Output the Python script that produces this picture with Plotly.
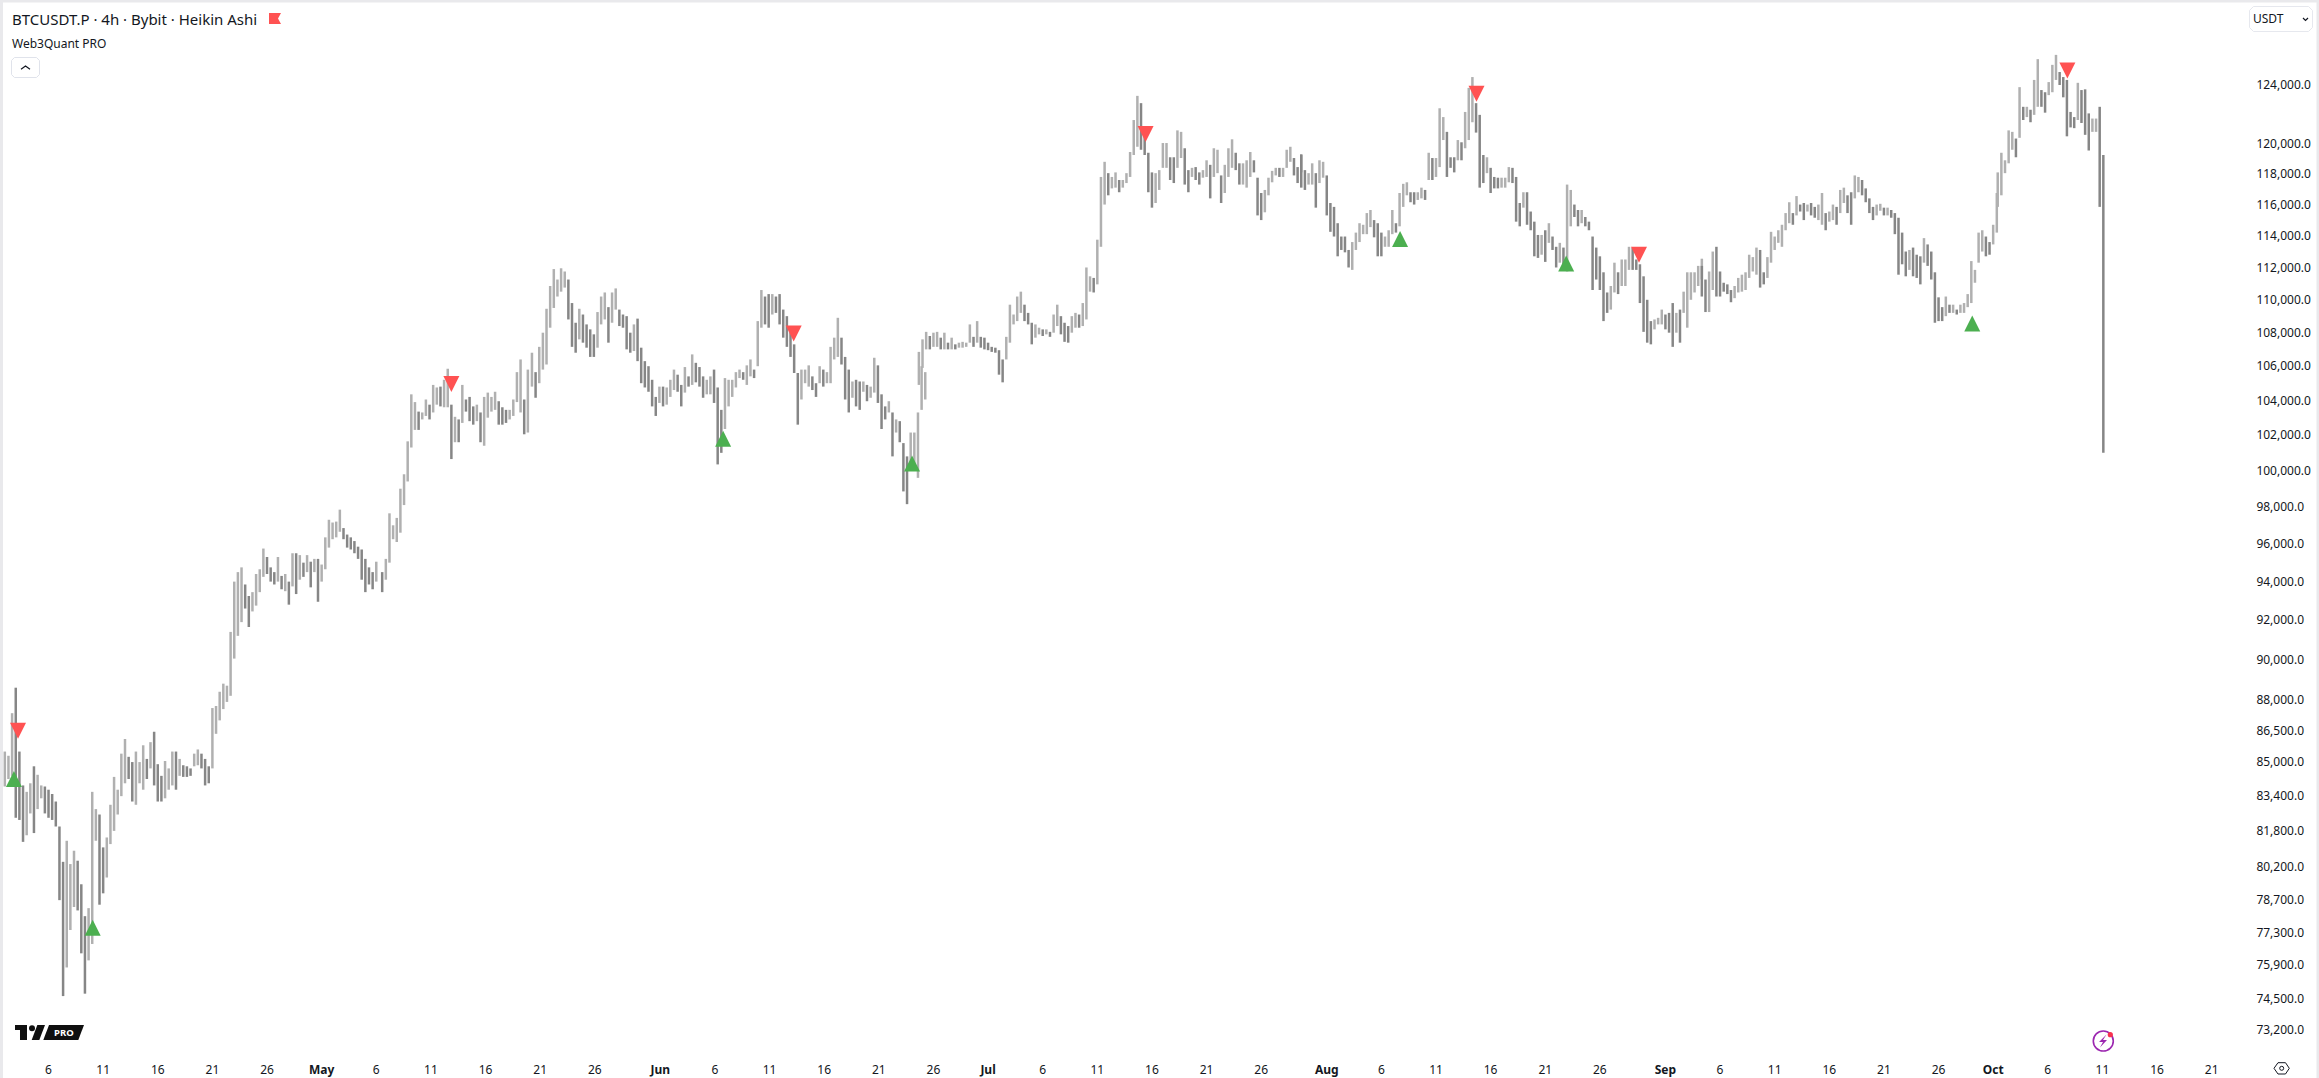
import datetime as dt
import math
import plotly.graph_objects as go

W, H = 2319, 1078
L, R, T, B = 3, 2249, 8, 1050
FONT = "Noto Sans"
INK = "#131722"
UP_COLOR = "#b0b0b0"
DOWN_COLOR = "#868686"
RED = "#ff5252"
GREEN = "#4caf50"

# Heikin Ashi ranges, 8h steps, (high, low) in thousands of USDT
BARS_APR_A = [(85.5,83.85),(85.3,84.2),(87.35,84.35),(88.6,82.4),(85.5,82.3),(83.9,81.3),(83.6,81.6),(84,82.6),(84.8,81.7),(84.4,82.8),(83.9,83.3),(83.85,82.6),(83.7,82.4),(83.5,82.3),(83.15,82),(82,78.7),(80.4,74.6),(81.35,75.8),(80.3,77.4),(80.9,78.4),(80.45,78.25),(79.4,76.4),(78,74.7),(78.35,76.1),(83.6,76.8),(82.8,81.35),(82.55,78.5),(81.05,79),(81.5,79.7),(83,81.2),(84.3,81.8),(83.7,82.55),(85.4,83.4),(86.1,84),(85.25,84.2),(85,83.15),(85.5,83),(85,84),(85.8,83.7),(85.15,84.2),(85.95,84.7),(86.45,83.9),(84.9,83.15),(84.35,83.15),(85.05,83.3),(84.7,83.7),(85.5,83.9),(85.5,83.7),(85.15,84.35),(84.85,84.3),(84.8,84.3),(84.7,84.35),(85.4,84.8),(85.6,84.85),(85.4,84.7),(85.15,83.9),(84.8,84),(87.6,84.7),(87.7,86.35)]
BARS_APR_B = [(88.4,87),(88.8,87.55),(88.7,87.9),(91.4,88.2),(94,90.05),(94.5,91.2),(94.75,91.9),(93.85,92.6),(93.25,91.65),(93.45,92.45),(94.4,92.75),(94.65,93.45),(95.75,94.25),(95.3,94.4),(94.75,94),(94.5,93.85),(95.3,94),(94.3,93.6),(94.4,93.5),(94,92.8),(95.5,93.75),(95.5,93.35),(95.4,94.1),(95,94.25),(95.4,94.5),(95.05,93.7),(95.2,94.5),(95.2,92.95),(94.9,94),(96.35,94.65),(97.3,95.8),(97.15,96.25),(97.2,96.35),(97.85,96.65),(96.85,96.25),(96.5,95.8),(96.35,95.7),(96.15,95.5),(95.85,95.2),(95.7,94.1),(95.2,93.45),(94.75,93.85),(94.5,93.6),(95.05,94)]
BARS_MAY_A = [(94.5,93.45),(95.2,94.1),(97.65,95),(97,96.25),(97.4,96.1),(99,96.6),(99.8,98.1),(101.65,99.4),(104.35,101.3),(103.9,102.3),(103.35,102.3),(103.3,102.9),(104.05,103.1),(103.75,102.9),(104.9,103.3),(104.75,103.75),(104.8,103.65),(105.2,103.6),(105.85,103.6),(103.75,100.65),(103.05,101.6),(102.9,101.6),(104.9,102.7),(104.05,103.35),(104.2,102.8),(103.65,102.6),(103.75,102.8),(103.3,101.6),(104.2,101.4),(104.45,103),(104.2,103.35),(104.5,103.45),(103.95,102.6),(103.6,102.6),(103.45,102.7),(103.45,102.9),(104.05,103.1),(105.65,103.9),(106.4,103.3),(104.05,102.05),(105.8,102.15)]
BARS_MAY_B = [(106.8,104.8),(105.65,104.15),(107.15,105),(108,105.8),(109.45,106.1),(110.85,108.3),(111.9,109.5),(111.25,110.2),(111.95,110.5),(111.75,110.75),(111.25,108.8),(109.8,107.15),(108.6,106.8),(109.45,107.6),(109.1,107.4),(108.5,107.1),(108.2,106.55),(107.9,106.55),(109.25,107.1),(110.2,108.5),(110.45,108.8),(109.55,107.4),(110.45,108.6),(110.7,109.4),(109.4,108.4),(109.1,108.3),(109,107),(108,106.8),(108.5,106.9),(108.85,106.3),(107.1,105),(106.3,104.75),(106,104.5),(105.2,103.65),(104.2,103.1),(104.8,103.85),(104.8,103.65),(104.75,103.75),(105.2,104.2),(105.8,104.6),(105.5,104.5),(104.9,103.65),(105.95,104.45),(105.4,104.8),(106.7,104.9),(106.2,105.05),(105.95,104.8),(105.4,104.15),(105.2,104.35),(105.4,104.35),(105.8,103.85),(104.75,100.35),(103.45,101),(105.3,102.35),(105.2,103.65),(105.2,104.2),(105.65,104.75),(105.8,105.3),(105.65,105.2),(106.05,104.9),(106.4,105.4),(105.8,105.3),(108.7,106),(110.6,108.3),(110.2,108.5),(110.35,108.3),(110.35,109.1),(110.2,109.2),(110.35,108.5),(109.4,107.7),(109,107.15),(108.4,106.55),(107.3,105.6),(105.6,102.6),(105.8,104.05),(105.8,105),(106.05,104.8),(105.4,104.6),(105,104.2),(106,105),(105.8,104.8),(105.65,105),(107.15,105),(107.7,106.4),(108.9,106.55),(107.7,106.1),(106.55,104.05),(105.8,103.3),(105.1,104.15),(105.2,103.65),(105.1,103.45),(105.1,104.5),(104.9,103.95),(104.8,104.15),(106.5,104.45),(106.05,103.85),(104.35,102.35),(103.65,102.9),(103.95,103.3),(103.3,100.8),(102.9,102.15),(102.8,101.6),(101.55,98.85),(100.8,98.15),(102.15,100.05),(102.15,100.2),(103.3,99.6),(106,103.45),(105.65,104.05)]
BARS_JUN = [(106.85,104.9),(107.6,105.9),(108.05,107),(107.8,107),(108,107.15),(108.05,107.15),(107.7,107),(108,107),(107.4,107),(107.7,107),(107.3,107),(107.4,107.1),(107.45,107.1),(107.4,107.15),(108.5,107.4),(107.75,107.15),(108.7,107.4),(107.75,107.1),(107.7,107),(107.4,106.95),(107.15,106.85),(107.1,106.8),(106.95,105.5),(106.4,105.05),(107.75,106.4),(109.7,107.4),(109.1,108.5),(110.2,108.7),(110.5,109.2),(109.7,108.7),(109.2,108.5),(108.6,107.3),(108.5,107.7),(108.3,107.9),(108.2,107.8),(108.2,107.9),(108.05,107.75),(109.1,108),(109.7,108.4),(109,107.9),(108.6,107.45),(108.4,107.4),(109,108),(109.2,108.3),(109.1,108.3),(109.8,108.4),(112,108.8),(111.45,110.5),(111.35,110.45),(113.75,110.95),(117.8,113.3),(118.8,116),(118.05,116.6),(117.8,117.05),(118.1,117.1),(117.6,116.8),(117.6,117.1),(118.05,117.4),(119.45,117.8),(121.6,119.25),(123.25,119.8),(122.75,119.6),(121.1,119.25),(119.4,116.8),(118.1,115.8),(118.05,116.1),(118.25,116.95),(120.05,118.4),(120.05,118.4),(119.1,117.6),(119.1,117.4),(120.9,118.4),(120.8,119.05),(119.7,117.3),(118.25,116.8),(118.4,117.8),(118.45,117.6),(118.1,117.3),(118.25,117.75),(118.9,117.8),(118.6,116.4),(119.7,117.8),(119.6,118.05),(117.9,116.1),(118.6,116.75),(119.7,117.8),(120.3,118.4),(119.4,118.25),(118.7,117.3),(118.7,117.3),(118.9,117.1),(119.45,117.8),(118.9,118.1),(117.75,115.3),(116.75,115),(116.95,115.5),(117.75,116.6),(118.2,117.45),(118.4,117.9),(118.4,117.8),(118.4,117.8),(119.6,118.4),(119.8,118.8),(119.05,117.9),(118.45,117.4),(119.25,118.1)]
BARS_AUG = [(119.3,117.1),(118.25,116.95),(118.05,117.3),(118.7,117.3),(118.05,115.8),(118.9,117.4),(118.8,117.75),(117.9,115.3),(116.1,114.25),(115.85,113.95),(114.8,112.7),(113.95,113.1),(113.95,112.95),(113.1,112),(113.6,111.85),(114.2,113.1),(114.8,113.6),(114.7,114.1),(115.45,114.1),(115.65,114.55),(115,113.9),(114.8,112.7),(114.2,112.7),(113.95,113.3),(114.35,113.3),(115.65,114.1),(114.8,114.2),(116.75,114.6),(117.35,115.85),(117.45,116.6),(116.8,116.15),(116.8,116),(116.8,116.3),(117.1,116.4),(116.95,116.3),(119.4,117.6),(119.05,117.6),(119.05,117.8),(122.4,118.45),(121.8,120.25),(120.8,117.8),(119.1,118.4),(119.1,118.1),(120.25,118.9),(120.1,118.9),(122.15,119.7),(123.8,120.25),(124.55,121.45),(122.75,120.75),(121.95,117.1),(119.25,117.4),(119.1,118.05),(118.4,116.75),(117.8,117.05),(117.75,117.05),(117.75,117.1),(117.75,117.1),(118.45,117.45),(118.4,117.4),(117.8,114.9),(116.1,114.6),(116.8,115.8),(116.8,114.7),(115.55,114.35),(114.9,112.7),(114.05,112.6),(114.05,112.8),(114.35,112.35),(114.8,113.55),(113.95,113.1),(113.3,112),(113.55,112.3),(113.25,112),(117.3,111.75),(116.95,114.6),(116,115.2),(115.65,114.6),(115.65,114.8),(115.2,114.6),(114.9,114.35),(113.95,110.6),(113.25,111.25),(112.7,110.6),(111.7,108.7),(110.45,109.2),(110.85,109.4),(112.3,110.45),(111.7,110.35),(112.5,110.85),(112.5,110.85),(113.3,111.85),(113.25,111.85),(112.5,111.85),(112.2,109.8),(111.45,108.05),(110,107.4),(108.7,107.3),(108.8,108.2),(108.9,108.5),(109.4,108.5),(109.1,108.2),(109.2,108),(109.8,107.15),(109.2,108),(109.4,107.4),(110.5,109.2),(111.7,108.3),(111.7,110),(111.7,110.45),(112.1,110.85),(112.55,111.25)]
BARS_SEP = [(112.1,110.2),(111.25,109.25),(111.75,109.25),(113,110.6),(113.3,110.2),(111.75,110.2),(111.05,110.5),(110.95,110.35),(110.6,109.85),(110.85,110.1),(111.35,110.45),(111.55,110.5),(111.7,110.6),(112.8,111.35),(112.65,111.75),(113.25,111.55),(113.1,110.75),(111.7,110.95),(112.65,111.35),(114.25,112.3),(113.95,113.1),(114.35,113.55),(114.7,113.3),(115.45,114.35),(116.15,114.8),(115.45,114.7),(116.55,115.3),(116,115.55),(116.1,115),(116,115.55),(116.1,115.3),(115.85,115.15),(116,115),(116.75,114.7),(115.45,114.35),(115.55,114.9),(116,115),(115.85,114.7),(116.95,115.45),(117.1,116.1),(116.6,115.45),(116.8,114.7),(117.9,116.4),(117.8,116.8),(117.6,116.6),(117.05,116.15),(116.4,115.45),(115.85,115),(116,115.3),(116.05,115.6),(115.8,115.3),(115.8,115.3),(115.65,115.15),(115.45,114.1),(115.15,111.55),(114.2,112.2),(113,111.45),(113.1,111.85),(113.25,111.45),(112.8,111.35),(112.7,110.95),(113.85,112.3),(113.45,112.1),(113,111.25),(111.7,108.6),(110.15,108.7),(109.55,108.7),(110.2,109),(109.7,109.2),(109.7,109.2),(109.4,109.1),(109.7,109.2),(109.8,109.2),(110.35,109.55),(112.4,109.8),(111.85,111.05),(114.2,112.3),(114.35,113),(113.95,112.7),(113.6,112.8),(114.7,113.45),(116.75,114.2)]
BARS_OCT = [(118.1,115.85),(119.4,116.6),(118.9,118.05),(120.9,118.7),(120.8,119.6),(120.35,119.1),(123.85,120.4),(122.5,121.6),(122.5,121.8),(122.3,121.45),(124.35,121.95),(125.8,122.5),(123.65,122.5),(123.5,122.1),(124.2,123.3),(125.4,123.5),(126.1,124.35),(124.9,124),(124.55,123.15),(124.35,120.5),(122.15,121.1),(121.8,121.05),(124.15,121.6),(123.65,121.4),(123.7,120.6),(122.05,119.55),(121.7,120.8),(121.7,120.8),(122.5,115.85),(119.25,101.0)]

SEGMENTS = [
    ("2025-04-02 00:00", BARS_APR_A), ("2025-04-21 16:00", BARS_APR_B),
    ("2025-05-06 13:00", BARS_MAY_A), ("2025-05-20 06:00", BARS_MAY_B),
    ("2025-06-24 16:00", BARS_JUN), ("2025-07-29 16:00", BARS_AUG),
    ("2025-09-04 08:00", BARS_SEP), ("2025-10-01 10:00", BARS_OCT),
]

BUY_DATES = ["2025-04-02 20:00","2025-04-10 01:00","2025-06-06 18:00","2025-06-24 01:00","2025-08-07 17:00","2025-08-22 22:00","2025-09-29 02:00"]
BUY_PRICES = [84200,77500,101800,100400,113800,112250,108550]
SELL_DATES = ["2025-04-03 05:00","2025-05-12 21:00","2025-06-13 05:00","2025-07-15 10:00","2025-08-14 17:00","2025-08-29 14:00","2025-10-07 19:00"]
SELL_PRICES = [86500,104950,107950,120650,123400,112800,125000]

Y_TICKS = [73200,74500,75900,77300,78700,80200,81800,83400,85000,86500,88000,90000,92000,94000,96000,98000,100000,102000,104000,106000,108000,110000,112000,114000,116000,118000,120000,124000]
X_TICKS = ["2025-04-06","2025-04-11","2025-04-16","2025-04-21","2025-04-26","2025-05-01","2025-05-06","2025-05-11","2025-05-16","2025-05-21","2025-05-26","2025-06-01","2025-06-06","2025-06-11","2025-06-16","2025-06-21","2025-06-26","2025-07-01","2025-07-06","2025-07-11","2025-07-16","2025-07-21","2025-07-26","2025-08-01","2025-08-06","2025-08-11","2025-08-16","2025-08-21","2025-08-26","2025-09-01","2025-09-06","2025-09-11","2025-09-16","2025-09-21","2025-09-26","2025-10-01","2025-10-06","2025-10-11","2025-10-16","2025-10-21"]
X_LABELS = ["6","11","16","21","26","<b>May</b>","6","11","16","21","26","<b>Jun</b>","6","11","16","21","26","<b>Jul</b>","6","11","16","21","26","<b>Aug</b>","6","11","16","21","26","<b>Sep</b>","6","11","16","21","26","<b>Oct</b>","6","11","16","21"]
X_START, X_END = "2025-04-01 20:00", "2025-10-24 10:00"
Y_MIN, Y_MAX = 72390, 129440

up_x, up_y, dn_x, dn_y = [], [], [], []
prev_mid = None
for start, bars in SEGMENTS:
    t0 = dt.datetime.strptime(start, "%Y-%m-%d %H:%M")
    for i, (hi, lo) in enumerate(bars):
        t = t0 + dt.timedelta(hours=8 * i)
        mid = (hi + lo) / 2
        xs, ys = (up_x, up_y) if prev_mid is None or mid >= prev_mid else (dn_x, dn_y)
        xs += [t, t, None]
        ys += [lo * 1000, hi * 1000, None]
        prev_mid = mid

def px(x):
    return (x - L) / (R - L)

def py(y):
    return 1 - (y - T) / (B - T)

def poly(points, closed=True):
    s = "M " + " L ".join(f"{px(x):.6f},{py(y):.6f}" for x, y in points)
    return s + " Z" if closed else s

def deco(points, fill=None, line=None, width=1, closed=True):
    return dict(type="path", xref="paper", yref="paper", path=poly(points, closed), layer="above",
                fillcolor=fill if fill else "rgba(0,0,0,0)",
                line=dict(color=line if line else "rgba(0,0,0,0)", width=width))

def rrect(x0, y0, x1, y1, r=3):
    return [(x0 + r, y0), (x1 - r, y0), (x1, y0 + r), (x1, y1 - r), (x1 - r, y1), (x0 + r, y1), (x0, y1 - r), (x0, y0 + r)]

def circle(cx, cy, r, fill=None, line=None, width=1):
    return dict(type="circle", xref="paper", yref="paper", x0=px(cx - r), x1=px(cx + r), y0=py(cy + r), y1=py(cy - r),
                fillcolor=fill if fill else "rgba(0,0,0,0)", line=dict(color=line if line else "rgba(0,0,0,0)", width=width), layer="above")

def label(x, y, text, size, color=INK, anchor="left"):
    return dict(xref="paper", yref="paper", x=px(x), y=py(y), text=text, showarrow=False, xanchor=anchor, yanchor="middle",
                font=dict(family=FONT, size=size, color=color), borderpad=0, borderwidth=0)

BAND = "#e9e9ec"
shapes = [
    deco([(0, 0), (3, 0), (3, H), (0, H)], fill=BAND),
    deco([(0, 0), (W, 0), (W, 2.5), (0, 2.5)], fill=BAND),
    deco([(W - 2.5, 0), (W, 0), (W, H), (W - 2.5, H)], fill=BAND),
    deco([(269, 13), (281, 13), (278, 18.5), (281, 24), (269, 24)], fill=RED),
    deco(rrect(11.5, 57.5, 39.5, 77.5), line="#e0e3eb"),
    deco([(21, 69.3), (25.5, 66), (30, 69.3)], line=INK, width=1.2, closed=False),
    deco(rrect(2249.5, 6.5, 2312.5, 31.5, 4), line="#e6e8ee"),
    deco([(2303, 18), (2305.5, 20.5), (2308, 18)], line=INK, width=1.2, closed=False),
    deco([(2274, 1068.3), (2278, 1062.7), (2285.5, 1062.7), (2289.3, 1068.3), (2285.5, 1074), (2278, 1074)], line=INK, width=1),
    circle(2281.7, 1068.3, 2, line=INK),
    deco([(15, 1025), (27, 1025), (27, 1040), (20, 1040), (20, 1030), (15, 1030)], fill="#0f0f0f"),
    circle(32, 1028.3, 3, fill="#0f0f0f"),
    deco([(37.3, 1025), (45, 1025), (39.3, 1040), (31.7, 1040)], fill="#0f0f0f"),
    deco([(49, 1025), (84, 1025), (78.3, 1040), (43.3, 1040)], fill="#0f0f0f"),
    circle(2103.3, 1041, 10, line="#9c27b0", width=1.6),
    circle(2110.3, 1034.7, 2.6, fill="#f7324f"),
    deco([(2106.5, 1034.5), (2099, 1042), (2103, 1042), (2100, 1047.5), (2107, 1040), (2103, 1040)], fill="#9c27b0"),
]
for d, p in zip(BUY_DATES, BUY_PRICES):
    shapes.append(dict(type="path", xref="x", yref="y", xsizemode="pixel", ysizemode="pixel", xanchor=d, yanchor=p,
                       path="M -8,-8 L 8,-8 L 0,8 Z", fillcolor=GREEN, line=dict(width=0), layer="above"))
for d, p in zip(SELL_DATES, SELL_PRICES):
    shapes.append(dict(type="path", xref="x", yref="y", xsizemode="pixel", ysizemode="pixel", xanchor=d, yanchor=p,
                       path="M -8,8 L 8,8 L 0,-8 Z", fillcolor=RED, line=dict(width=0), layer="above"))

annotations = [
    label(12, 19, "BTCUSDT.P · 4h · Bybit · Heikin Ashi", 15),
    label(12, 43, "Web3Quant PRO", 12),
    label(2253, 19, "USDT", 12),
    label(63.5, 1032.7, "<b>PRO</b>", 9.5, color="#ffffff", anchor="center"),
]

fig = go.Figure()
fig.add_trace(go.Scatter(x=up_x, y=up_y, mode="lines", line=dict(color=UP_COLOR, width=2.5), hoverinfo="skip", showlegend=False))
fig.add_trace(go.Scatter(x=dn_x, y=dn_y, mode="lines", line=dict(color=DOWN_COLOR, width=2.5), hoverinfo="skip", showlegend=False))
fig.update_layout(
    width=W, height=H, autosize=False,
    margin=dict(l=L, r=W - R, t=T, b=H - B, pad=0),
    paper_bgcolor="#ffffff", plot_bgcolor="#ffffff",
    font=dict(family=FONT, size=12, color=INK),
    showlegend=False, shapes=shapes, annotations=annotations,
    xaxis=dict(type="date", range=[X_START, X_END], tickmode="array", tickvals=X_TICKS, ticktext=X_LABELS,
               automargin=False, showgrid=False, zeroline=False, showline=False, ticks="outside", ticklen=9, tickcolor="rgba(0,0,0,0)",
               tickfont=dict(family=FONT, size=12, color=INK), tickangle=0),
    yaxis=dict(type="log", side="right", range=[math.log10(Y_MIN), math.log10(Y_MAX)],
               tickmode="array", tickvals=Y_TICKS, ticktext=[f"{v:,.1f}" for v in Y_TICKS],
               automargin=False, showgrid=False, zeroline=False, showline=False, ticks="outside", ticklen=4, tickcolor="rgba(0,0,0,0)",
               tickfont=dict(family=FONT, size=12, color=INK)),
)
fig.write_html("out.html", config=dict(displayModeBar=False),
               post_script="document.body.style.margin='0';document.body.style.overflow='hidden';")
